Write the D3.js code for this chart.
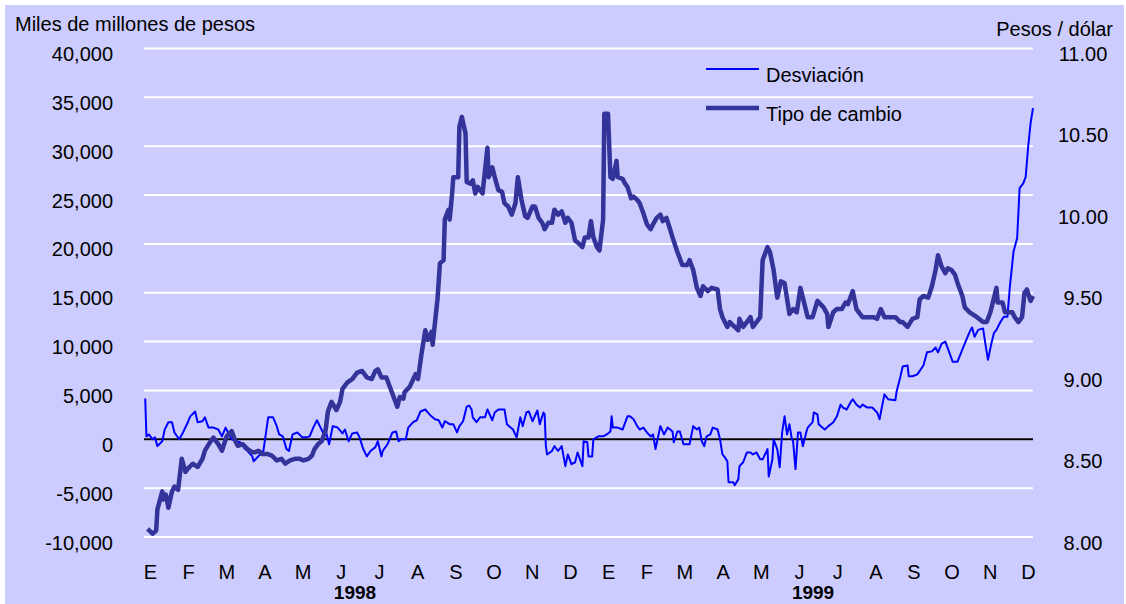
<!DOCTYPE html>
<html>
<head>
<meta charset="utf-8">
<script src="https://cdn.jsdelivr.net/npm/d3@7"></script>
<style>
body{margin:0;background:#fff;}
svg text{font-family:"Liberation Sans",Arial,sans-serif;fill:#000;}
</style>
</head>
<body>
<div id="grafica"></div>
<script>
// etiquetas del eje horizontal
var meses = ["E","F","M","A","M","J","J","A","S","O","N","D",
             "E","F","M","A","M","J","J","A","S","O","N","D"];
var anios = ["1998","1999"];

var ticksIzq = [-10000,-5000,0,5000,10000,15000,20000,25000,30000,35000,40000];
var ticksDer = [8.00,8.50,9.00,9.50,10.00,10.50,11.00];

var series = ["Desviación","Tipo de cambio"];

// dias desde el 1 de enero de 1998
var diasTipo = [3,7,10,11,15,16,18,20,23,25,28,31,34,36,40,44,48,50,54,57,
  61,64,68,72,75,77,81,85,89,91,94,97,101,105,109,113,116,120,124,128,
  131,135,138,140,143,146,149,151,154,158,161,163,167,171,175,179,183,187,190,192,
  195,199,201,204,208,210,213,214,218,223,225,228,231,233,236,237,241,243,246,247,
  250,251,253,254,258,259,261,264,265,268,270,272,274,278,280,282,283,286,288,291,
  294,296,299,302,305,307,310,313,315,319,321,324,327,329,332,335,337,340,343,346,
  348,351,354,356,360,362,365,367,369,372,374,377,378,381,383,385,388,389,393,395,
  397,400,402,405,407,410,413,416,418,421,424,426,429,432,434,438,442,446,448,451,
  454,457,459,463,466,471,473,475,479,481,485,488,489,492,495,498,500,503,506,508,
  512,514,517,520,523,526,530,533,536,539,543,545,549,553,558,561,562,566,569,573,
  576,578,582,585,590,594,599,602,605,608,613,617,621,623,627,631,635,637,640,644,
  647,650,652,655,658,660,663,666,668,672,674,678,684,689,692,695,697,700,701,705,
  707,709,713,715,718,721,723,725,728,730];
var tipoCambio = [8.05,8.02,8.04,8.17,8.28,8.23,8.26,8.18,8.28,8.31,8.29,8.48,8.40,8.42,8.45,8.43,8.48,8.53,8.58,8.61,
  8.57,8.53,8.62,8.65,8.59,8.56,8.57,8.54,8.52,8.52,8.53,8.51,8.51,8.50,8.47,8.48,8.45,8.47,8.48,8.48,
  8.47,8.48,8.50,8.54,8.57,8.59,8.65,8.77,8.83,8.78,8.83,8.91,8.95,8.97,9.01,9.02,8.98,8.97,9.02,9.03,
  8.98,8.98,8.94,8.88,8.80,8.86,8.85,8.89,8.92,9.00,8.97,9.13,9.27,9.21,9.26,9.18,9.46,9.68,9.70,9.95,
  10.01,9.95,10.11,10.21,10.21,10.52,10.58,10.48,10.18,10.17,10.19,10.11,10.15,10.11,10.25,10.39,10.21,10.27,10.21,10.13,
  10.12,10.05,10.03,9.98,10.05,10.21,10.07,9.97,9.96,10.03,10.03,9.96,9.93,9.89,9.93,9.93,10.01,9.98,10.00,9.93,
  9.96,9.93,9.82,9.81,9.78,9.84,9.84,9.94,9.84,9.78,9.76,9.95,10.60,10.60,10.21,10.20,10.31,10.21,10.20,10.17,
  10.15,10.08,10.09,10.07,10.05,9.99,9.92,9.89,9.92,9.96,9.98,9.94,9.96,9.89,9.84,9.75,9.67,9.67,9.70,9.64,
  9.53,9.48,9.54,9.51,9.53,9.52,9.40,9.35,9.29,9.32,9.29,9.27,9.34,9.29,9.32,9.35,9.29,9.32,9.35,9.70,
  9.78,9.75,9.64,9.47,9.57,9.56,9.37,9.40,9.38,9.53,9.41,9.35,9.35,9.45,9.41,9.37,9.29,9.38,9.40,9.40,
  9.44,9.43,9.51,9.40,9.35,9.35,9.35,9.34,9.40,9.35,9.35,9.35,9.32,9.32,9.29,9.34,9.35,9.46,9.48,9.47,
  9.54,9.64,9.73,9.66,9.62,9.65,9.64,9.61,9.56,9.48,9.41,9.38,9.35,9.32,9.32,9.38,9.44,9.53,9.44,9.44,
  9.38,9.38,9.38,9.35,9.32,9.35,9.50,9.52,9.45,9.48];

var diasDesv = [1,2,4,7,9,11,15,17,20,23,25,29,32,36,38,42,44,48,50,53,
  57,61,64,67,69,72,76,79,83,85,89,90,98,102,106,109,111,114,117,119,
  122,126,130,133,136,139,142,145,147,149,152,155,159,163,165,168,171,175,177,180,
  183,186,190,192,195,196,200,204,207,209,211,215,217,221,224,227,231,233,236,239,
  242,245,247,251,254,257,259,262,265,267,269,270,273,276,280,282,286,288,291,294,
  296,298,301,303,306,309,311,314,316,319,323,325,328,329,330,331,335,337,340,343,
  346,348,351,354,356,360,361,364,365,368,369,373,377,380,383,384,385,389,393,397,
  399,402,405,407,410,413,416,418,420,424,427,430,434,435,438,440,443,446,448,451,
  454,456,458,460,462,465,467,471,473,475,477,479,480,484,485,488,489,492,495,498,
  500,503,506,508,512,513,516,517,520,522,524,526,528,530,532,533,535,537,539,541,
  544,545,549,550,553,554,557,559,562,566,569,572,574,577,580,582,585,588,590,594,
  598,602,604,606,608,611,617,618,621,623,627,628,631,635,640,643,647,650,652,655,
  658,662,664,668,673,676,678,680,682,685,689,691,693,696,698,700,703,706,709,711,
  714,717,719,722,724,726,728,730];
var desviacion = [4180,300,500,0,200,-700,-200,1000,1750,1750,700,0,700,1750,2350,2850,1750,1850,2250,1200,
  1200,1000,300,1200,700,0,-200,-300,-1000,-1200,-1750,-2250,-1200,2250,2250,1350,500,300,-1000,-1200,
  500,700,200,200,300,1200,1950,1200,700,1000,-500,1350,1200,600,1000,-200,600,700,200,-1000,
  -1750,-1200,-800,-200,-1750,-1200,-500,700,800,-200,0,0,1200,1750,1950,2850,3050,2750,2350,2050,
  1950,1200,1850,1550,1550,700,1350,1850,3350,3450,3050,2250,1750,2250,2250,3050,1950,2750,3050,3050,
  3050,1550,1200,1000,200,2250,1350,2750,2850,1850,2950,1550,2750,2550,-700,-1550,-1200,-700,-1200,-700,
  -2750,-1550,-2550,-2350,-1350,-2750,-200,-300,-1750,-1750,0,300,300,500,800,2350,1200,1200,1000,2350,
  2350,2050,1350,1000,1200,700,300,500,-1000,1350,500,1200,800,-300,800,800,-500,-500,-500,1350,
  1000,1200,-200,-700,300,500,1200,1000,0,-1550,-1850,-2250,-4400,-4400,-4700,-4100,-2750,-2350,-1350,-1350,
  -1550,-1350,-2050,-2050,-1000,-3800,-2050,0,-1000,-2850,700,2350,500,1550,0,-200,-3050,700,700,-700,
  800,1200,1750,2750,2550,1550,1200,1000,1350,1750,2350,3550,3250,3050,3750,4100,3550,3250,3550,3250,
  3250,2750,2050,3350,4600,4100,4000,4900,6350,7450,7550,6450,6450,6650,7550,8900,9000,9400,8900,9800,
  10000,8650,7950,7950,9500,10400,11000,11450,10500,11200,11350,9700,8150,9900,10900,11200,11950,12550,12550,15600,
  19200,20600,25700,26200,26850,29900,32350,33900];

var INICIO = new Date(1998,0,1);

function GraficaCambiaria(contenedor){
    this.ANCHO = 1126;
    this.ALTO = 604;
    this.X0 = 144;
    this.X1 = 1033;

    this.svg = d3.select(contenedor).append("svg")
        .attr("width",this.ANCHO)
        .attr("height",this.ALTO);

    this.x = d3.scaleTime()
        .domain([INICIO, d3.timeDay.offset(INICIO,730)])
        .range([this.X0,this.X1]);
    this.yIzq = d3.scaleLinear().domain([-10000,40000]).range([537,48.5]);
    this.yDer = d3.scaleLinear().domain([8,11]).range([537,48.5]);
    this.xMes = d3.scalePoint().domain(d3.range(meses.length)).range([150,1028]);

    this.dibujarFondo();
    this.dibujarEjes();
    this.dibujarSeries();
    this.dibujarLeyenda();
}

GraficaCambiaria.prototype.dibujarFondo = function(){
    this.svg.append("rect")
        .attr("x",5).attr("y",5)
        .attr("width",this.ANCHO-7).attr("height",this.ALTO-5)
        .attr("fill","#ccccff");

    var yIzq = this.yIzq;
    this.svg.append("g").selectAll("line")
        .data(ticksIzq)
        .join("line")
        .attr("x1",this.X0).attr("x2",this.X1)
        .attr("y1",function(d){return yIzq(d);})
        .attr("y2",function(d){return yIzq(d);})
        .attr("stroke","#ffffff")
        .attr("stroke-width",2);

    this.svg.append("line")
        .attr("x1",this.X0).attr("x2",this.X1)
        .attr("y1",yIzq(0)).attr("y2",yIzq(0))
        .attr("stroke","#000")
        .attr("stroke-width",2);
};

GraficaCambiaria.prototype.dibujarEjes = function(){
    var miles = d3.format(",");
    var fmtIzq = function(v){ return (v<0?"-":"") + miles(Math.abs(v)); };

    var ejeIzq = this.svg.append("g")
        .attr("transform","translate("+this.X0+",0)")
        .call(d3.axisLeft(this.yIzq).tickValues(ticksIzq).tickSize(0).tickPadding(31).tickFormat(fmtIzq));
    var ejeDer = this.svg.append("g")
        .attr("transform","translate("+this.X1+",0)")
        .call(d3.axisRight(this.yDer).tickValues(ticksDer).tickSize(0).tickPadding(50).tickFormat(d3.format(".2f")));
    var ejeMes = this.svg.append("g")
        .attr("transform","translate(0,579)")
        .call(d3.axisBottom(this.xMes).tickSize(0).tickFormat(function(i){return meses[i];}));

    [ejeIzq,ejeDer,ejeMes].forEach(function(eje){
        eje.attr("font-size",20).attr("font-family",null);
        eje.select(".domain").remove();
    });
    ejeIzq.selectAll("text").attr("dy",12);
    ejeDer.selectAll("text").attr("dy",12).attr("text-anchor","middle");
    ejeMes.selectAll("text").attr("y",0).attr("dy",0);

    var xMes = this.xMes;
    this.svg.append("g").selectAll("text")
        .data(anios)
        .join("text")
        .attr("x",function(d,i){ return (xMes(i*12+5)+xMes(i*12+6))/2 - 5; })
        .attr("y",599)
        .attr("text-anchor","middle")
        .attr("font-size",19)
        .attr("font-weight","bold")
        .text(function(d){return d;});

    this.svg.append("text")
        .attr("x",15).attr("y",30.5)
        .attr("font-size",20)
        .text("Miles de millones de pesos");
    this.svg.append("text")
        .attr("x",1113).attr("y",36)
        .attr("text-anchor","end")
        .attr("font-size",20)
        .text("Pesos / dólar");
};

GraficaCambiaria.prototype.dibujarSeries = function(){
    var x = this.x, yIzq = this.yIzq, yDer = this.yDer;
    var fecha = function(d){ return x(d3.timeDay.offset(INICIO,d)); };

    var lineaDesv = d3.line()
        .x(function(d,i){ return fecha(diasDesv[i]); })
        .y(function(d){ return yIzq(d); });
    var lineaTipo = d3.line()
        .x(function(d,i){ return fecha(diasTipo[i]); })
        .y(function(d){ return yDer(d); });

    this.svg.append("path")
        .datum(desviacion)
        .attr("d",lineaDesv)
        .attr("fill","none")
        .attr("stroke","#0000ff")
        .attr("stroke-width",2)
        .attr("stroke-linejoin","round");

    this.svg.append("path")
        .datum(tipoCambio)
        .attr("d",lineaTipo)
        .attr("fill","none")
        .attr("stroke","#333399")
        .attr("stroke-width",4.5)
        .attr("stroke-linejoin","round");
};

GraficaCambiaria.prototype.dibujarLeyenda = function(){
    var estilos = [{color:"#0000ff",grosor:2,y:69},{color:"#333399",grosor:4.5,y:108}];
    var items = this.svg.append("g").selectAll("g")
        .data(series)
        .join("g");
    items.append("line")
        .attr("x1",706).attr("x2",759)
        .attr("y1",function(d,i){return estilos[i].y;})
        .attr("y2",function(d,i){return estilos[i].y;})
        .attr("stroke",function(d,i){return estilos[i].color;})
        .attr("stroke-width",function(d,i){return estilos[i].grosor;});
    items.append("text")
        .attr("x",766)
        .attr("y",function(d,i){return estilos[i].y+13;})
        .attr("font-size",20)
        .text(function(d){return d;});
};

var grafica = new GraficaCambiaria("#grafica");
</script>
</body>
</html>
